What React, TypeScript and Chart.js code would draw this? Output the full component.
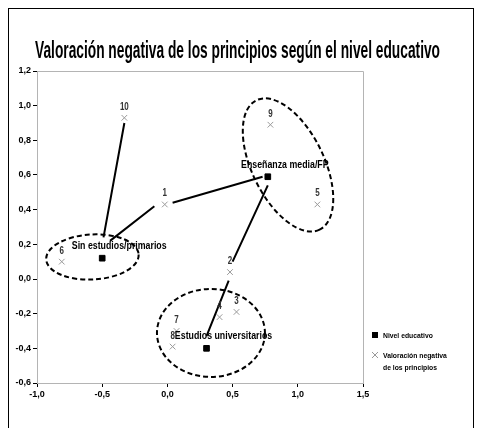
import React, { useEffect, useRef } from "react";
import { Chart, registerables } from "chart.js";

Chart.register(...registerables);

const TITLE = "Valoración negativa de los principios según el nivel educativo";

const LEVEL_NAMES = ["Sin estudios/primarios", "Enseñanza media/FP", "Estudios universitarios"];
const LEVEL_X = [-0.5, 0.77, 0.3];
const LEVEL_Y = [0.12, 0.59, -0.4];

const ITEM_LABELS = ["1", "2", "3", "4", "5", "6", "7", "8", "9", "10"];
const ITEM_X = [-0.02, 0.48, 0.53, 0.4, 1.15, -0.81, 0.07, 0.04, 0.79, -0.33];
const ITEM_Y = [0.43, 0.04, -0.19, -0.22, 0.43, 0.1, -0.3, -0.39, 0.89, 0.93];

// connector segments (null breaks the line)
const LINK_X = [-0.33, -0.49, null, -0.1, -0.44, null, 0.04, 0.73, null, 0.77, 0.5, null, 0.47, 0.3];
const LINK_Y = [0.9, 0.24, null, 0.42, 0.22, null, 0.44, 0.59, null, 0.54, 0.1, null, -0.01, -0.33];

// cluster ellipses: centre in data units, radii in axis units
const ELLIPSE_CX = [-0.575, 0.925, 0.334];
const ELLIPSE_CY = [0.127, 0.658, -0.311];
const ELLIPSE_RX = [0.355, 0.552, 0.414];
const ELLIPSE_RY = [0.13, 0.208, 0.254];
const ELLIPSE_ROT = [-3, 64, 0];

const X_TICKS = [-1, -0.5, 0, 0.5, 1, 1.5];
const X_TICK_LABELS = ["-1,0", "-0,5", "0,0", "0,5", "1,0", "1,5"];
const Y_TICKS = [-0.6, -0.4, -0.2, 0, 0.2, 0.4, 0.6, 0.8, 1.0, 1.2];
const Y_TICK_LABELS = ["-0,6", "-0,4", "-0,2", "0,0", "0,2", "0,4", "0,6", "0,8", "1,0", "1,2"];

const LEGEND_LEVEL = "Nivel educativo";
const LEGEND_ITEM = ["Valoración negativa", "de los principios"];

const FONT = "'Liberation Sans', Arial, sans-serif";

function drawScaled(
  ctx: CanvasRenderingContext2D,
  text: string,
  x: number,
  y: number,
  font: string,
  sx: number,
  align: "left" | "center",
  color: string
) {
  ctx.save();
  ctx.font = font;
  ctx.fillStyle = color;
  ctx.textBaseline = "alphabetic";
  ctx.textAlign = "left";
  const w = ctx.measureText(text).width * sx;
  const x0 = align === "center" ? x - w / 2 : x;
  ctx.translate(x0, y);
  ctx.scale(sx, 1);
  ctx.fillText(text, 0, 0);
  ctx.restore();
}

const decorPlugin = {
  id: "decor",
  afterDatasetsDraw(chart: any) {
    const ctx: CanvasRenderingContext2D = chart.ctx;
    const xs = chart.scales.x;
    const ys = chart.scales.y;
    const area = chart.chartArea;
    // plot frame (top + right)
    ctx.save();
    ctx.strokeStyle = "#b4b4b4";
    ctx.lineWidth = 1;
    ctx.beginPath();
    ctx.moveTo(area.left, area.top + 0.5);
    ctx.lineTo(area.right + 0.5, area.top + 0.5);
    ctx.lineTo(area.right + 0.5, area.bottom);
    ctx.stroke();
    ctx.restore();

    const pxX = Math.abs(xs.getPixelForValue(1) - xs.getPixelForValue(0));
    const pxY = Math.abs(ys.getPixelForValue(1) - ys.getPixelForValue(0));
    // ellipses
    ctx.save();
    ctx.strokeStyle = "#000";
    ctx.lineWidth = 2;
    ctx.setLineDash([5, 3]);
    for (let i = 0; i < ELLIPSE_CX.length; i++) {
      const cx = xs.getPixelForValue(ELLIPSE_CX[i]);
      const cy = ys.getPixelForValue(ELLIPSE_CY[i]);
      ctx.beginPath();
      ctx.ellipse(cx, cy, ELLIPSE_RX[i] * pxX, ELLIPSE_RY[i] * pxY, (ELLIPSE_ROT[i] * Math.PI) / 180, 0, Math.PI * 2);
      ctx.stroke();
    }
    ctx.restore();

    // item labels
    for (let i = 0; i < ITEM_LABELS.length; i++) {
      const x = xs.getPixelForValue(ITEM_X[i]);
      const y = ys.getPixelForValue(ITEM_Y[i]);
      drawScaled(ctx, ITEM_LABELS[i], x, y - 8, `bold 10px ${FONT}`, 0.8, "center", "#333");
    }
    // level labels
    for (let i = 0; i < LEVEL_NAMES.length; i++) {
      const x = xs.getPixelForValue(LEVEL_X[i]);
      const y = ys.getPixelForValue(LEVEL_Y[i]);
      drawScaled(ctx, LEVEL_NAMES[i], x + 17, y - 9, `bold 10px ${FONT}`, 0.88, "center", "#000");
    }

    // title
    ctx.save();
    ctx.font = `bold 24px ${FONT}`;
    const tw = ctx.measureText(TITLE).width;
    ctx.restore();
    drawScaled(ctx, TITLE, 26, 49, `bold 24px ${FONT}`, 405 / tw, "left", "#000");

    // legend
    const lx = area.right + 12;
    ctx.save();
    ctx.fillStyle = "#000";
    ctx.fillRect(lx - 3, 323, 6, 6);
    ctx.strokeStyle = "#999";
    ctx.lineWidth = 1;
    ctx.beginPath();
    ctx.moveTo(lx - 3, 343);
    ctx.lineTo(lx + 3, 349);
    ctx.moveTo(lx + 3, 343);
    ctx.lineTo(lx - 3, 349);
    ctx.stroke();
    ctx.restore();
    drawScaled(ctx, LEGEND_LEVEL, lx + 8, 329, `bold 8px ${FONT}`, 0.85, "left", "#000");
    drawScaled(ctx, LEGEND_ITEM[0], lx + 8, 349, `bold 8px ${FONT}`, 0.85, "left", "#000");
    drawScaled(ctx, LEGEND_ITEM[1], lx + 8, 361, `bold 8px ${FONT}`, 0.85, "left", "#000");
  },
};

export default function App() {
  const ref = useRef<HTMLCanvasElement>(null);
  useEffect(() => {
    if (!ref.current) return;
    const links = LINK_X.map((x, i) => (x === null ? { x: NaN, y: NaN } : { x, y: LINK_Y[i] as number }));
    const chart = new Chart(ref.current, {
      type: "scatter",
      data: {
        datasets: [
          {
            type: "line",
            label: "links",
            data: links as any,
            borderColor: "#000",
            borderWidth: 2,
            pointRadius: 0,
            spanGaps: false,
            showLine: true,
            fill: false,
          } as any,
          {
            label: LEGEND_LEVEL,
            data: LEVEL_X.map((x, i) => ({ x, y: LEVEL_Y[i] })),
            pointStyle: "rect",
            pointRadius: 4,
            backgroundColor: "#000",
            borderColor: "#000",
          },
          {
            label: LEGEND_ITEM.join(" "),
            data: ITEM_X.map((x, i) => ({ x, y: ITEM_Y[i] })),
            pointStyle: "crossRot",
            pointRadius: 4,
            borderWidth: 1,
            borderColor: "#9a9a9a",
            backgroundColor: "#9a9a9a",
          },
        ],
      },
      options: {
        responsive: false,
        animation: false,
        layout: { padding: { left: 0, top: 62, right: 110, bottom: 36 } },
        plugins: { legend: { display: false }, tooltip: { enabled: false }, title: { display: false } },
        scales: {
          x: {
            type: "linear",
            min: -1,
            max: 1.5,
            afterBuildTicks: (s: any) => {
              s.ticks = X_TICKS.map((v) => ({ value: v }));
            },
            afterFit: (s: any) => {
              s.height = 20;
            },
            grid: { drawOnChartArea: false, drawTicks: true, tickLength: 4, color: "#000" },
            border: { color: "#b4b4b4" },
            ticks: {
              padding: 2,
              color: "#000",
              font: { family: FONT, size: 9, weight: "bold" },
              callback: (v: any) => X_TICK_LABELS[X_TICKS.indexOf(Number(v))] ?? "",
            },
          },
          y: {
            type: "linear",
            min: -0.6,
            max: 1.2,
            afterBuildTicks: (s: any) => {
              s.ticks = Y_TICKS.map((v) => ({ value: v }));
            },
            afterFit: (s: any) => {
              s.width = 28;
            },
            grid: { drawOnChartArea: false, drawTicks: true, tickLength: 4, color: "#000" },
            border: { color: "#b4b4b4" },
            ticks: {
              padding: 2,
              color: "#000",
              font: { family: FONT, size: 9, weight: "bold" },
              callback: (v: any) => {
                const idx = Y_TICKS.findIndex((t) => Math.abs(t - Number(v)) < 1e-9);
                return idx >= 0 ? Y_TICK_LABELS[idx] : "";
              },
            },
          },
        },
      } as any,
      plugins: [decorPlugin],
    });
    return () => chart.destroy();
  }, []);

  return (
    <div
      style={{
        position: "relative",
        width: 466,
        height: 440,
        border: "1px solid #000",
        boxSizing: "border-box",
        background: "#fff",
      }}
    >
      <canvas ref={ref} width={464} height={430} style={{ position: "absolute", left: 0, top: 0 }} />
    </div>
  );
}
